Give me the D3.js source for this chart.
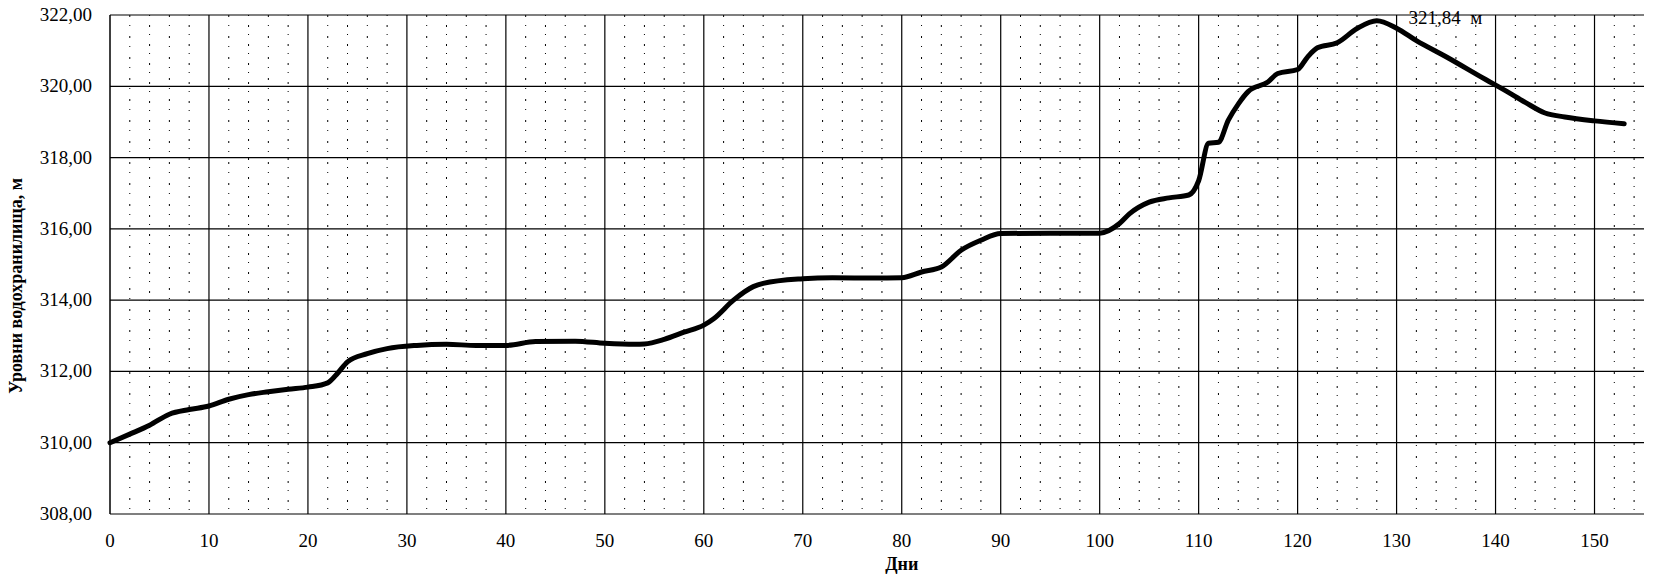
<!DOCTYPE html>
<html>
<head>
<meta charset="utf-8">
<script src="https://cdn.jsdelivr.net/npm/d3@7"></script>
<style>
  body { margin: 0; background: #fff; }
  svg { display: block; }
  text { font-family: "Liberation Serif", "Times New Roman", serif; fill: #000; }
</style>
</head>
<body>
<svg width="1654" height="586"></svg>
<script>
(function (d3) {
    'use strict';

    // data
    const days = [0, 2, 4, 6, 8, 10, 12, 14, 16, 18, 20, 22, 23, 24, 26, 28, 31, 34, 37, 40,
        43, 47, 50, 53, 54, 56, 58, 60, 61, 63, 65, 66, 70, 73, 77, 80, 82, 84, 86, 88,
        90, 95, 100, 102, 103, 105, 107, 109, 110, 111, 112, 113, 114, 115, 117, 118, 120, 121, 122, 124,
        126, 128, 130, 132, 135, 139, 141, 143, 145, 147, 150, 153];
    const levels = [310.00, 310.24, 310.49, 310.80, 310.93, 311.03, 311.22, 311.35, 311.43, 311.50,
        311.56, 311.68, 311.95, 312.27, 312.50, 312.64, 312.73, 312.76, 312.73, 312.73,
        312.84, 312.85, 312.79, 312.76, 312.77, 312.90, 313.10, 313.30, 313.48, 314.00,
        314.38, 314.47, 314.60, 314.63, 314.62, 314.63, 314.79, 314.93, 315.40, 315.68,
        315.87, 315.88, 315.88, 316.15, 316.42, 316.75, 316.87, 316.95, 317.35, 318.40,
        318.43, 319.05, 319.50, 319.85, 320.12, 320.36, 320.47, 320.82, 321.08, 321.22,
        321.62, 321.84, 321.63, 321.28, 320.83, 320.19, 319.88, 319.55, 319.25, 319.14,
        319.03, 318.95];
    const xTicks = [0, 10, 20, 30, 40, 50, 60, 70, 80, 90, 100, 110, 120, 130, 140, 150];
    const xMinor = d3.range(2, 156, 2).filter(v => v % 10 !== 0);
    const yTicks = [308, 310, 312, 314, 316, 318, 320, 322];
    const peakLabel = '321,84  м';
    const xTitle = 'Дни';
    const yTitle = 'Уровни водохранилища, м';

    const svg = d3.select('svg');
    const margin = {left: 110, right: 10, top: 15, bottom: 72};
    const W = 1654, H = 586;

    const x = d3.scaleLinear().domain([0, 155]).range([margin.left, W - margin.right]);
    const y = d3.scaleLinear().domain([308, 322]).range([H - margin.bottom, margin.top]);

    const fmt = v => d3.format('.2f')(v).replace('.', ',');

    // minor dotted verticals
    svg.append('g').selectAll('line').data(xMinor).enter().append('line')
        .attr('x1', d => x(d)).attr('x2', d => x(d))
        .attr('y1', y(322)).attr('y2', y(308))
        .attr('stroke', '#000').attr('stroke-width', 1)
        .attr('stroke-dasharray', (d, i) => i % 2 ? '1,9,2,7' : '2,8,1,10');

    // major verticals
    svg.append('g').selectAll('line').data(xTicks.slice(1)).enter().append('line')
        .attr('x1', d => x(d)).attr('x2', d => x(d))
        .attr('y1', y(322)).attr('y2', y(308))
        .attr('stroke', '#000').attr('stroke-width', 1.2);

    // horizontals
    svg.append('g').selectAll('line').data(yTicks).enter().append('line')
        .attr('x1', x(0)).attr('x2', x(155))
        .attr('y1', d => y(d)).attr('y2', d => y(d))
        .attr('stroke', '#000').attr('stroke-width', 1.2);

    // left axis line
    svg.append('line')
        .attr('x1', x(0)).attr('x2', x(0))
        .attr('y1', y(322)).attr('y2', y(308))
        .attr('stroke', '#000').attr('stroke-width', 1.5);

    // tick labels
    svg.append('g').selectAll('text').data(yTicks).enter().append('text')
        .attr('x', margin.left - 18)
        .attr('y', d => y(d) + 6)
        .attr('text-anchor', 'end')
        .attr('font-size', 19)
        .text(fmt);

    svg.append('g').selectAll('text').data(xTicks).enter().append('text')
        .attr('x', d => x(d))
        .attr('y', y(308) + 33)
        .attr('text-anchor', 'middle')
        .attr('font-size', 19)
        .text(d => d);

    // axis titles
    svg.append('text')
        .attr('x', x(80))
        .attr('y', y(308) + 56)
        .attr('text-anchor', 'middle')
        .attr('font-size', 18)
        .attr('font-weight', 'bold')
        .text(xTitle);

    svg.append('text')
        .attr('transform', 'translate(22,' + y(314.4) + ') rotate(-90)')
        .attr('text-anchor', 'middle')
        .attr('font-size', 18)
        .attr('font-weight', 'bold')
        .text(yTitle);

    // level curve
    const line = d3.line()
        .x((d, i) => x(days[i]))
        .y(d => y(d))
        .curve(d3.curveMonotoneX);

    svg.append('path')
        .datum(levels)
        .attr('d', line)
        .attr('fill', 'none')
        .attr('stroke', '#000')
        .attr('stroke-width', 5)
        .attr('stroke-linejoin', 'round')
        .attr('stroke-linecap', 'round');

    // peak annotation
    svg.append('text')
        .attr('x', x(131.2))
        .attr('y', y(321.84) + 3)
        .attr('font-size', 19)
        .attr('xml:space', 'preserve')
        .text(peakLabel);
}(d3));
</script>
</body>
</html>
